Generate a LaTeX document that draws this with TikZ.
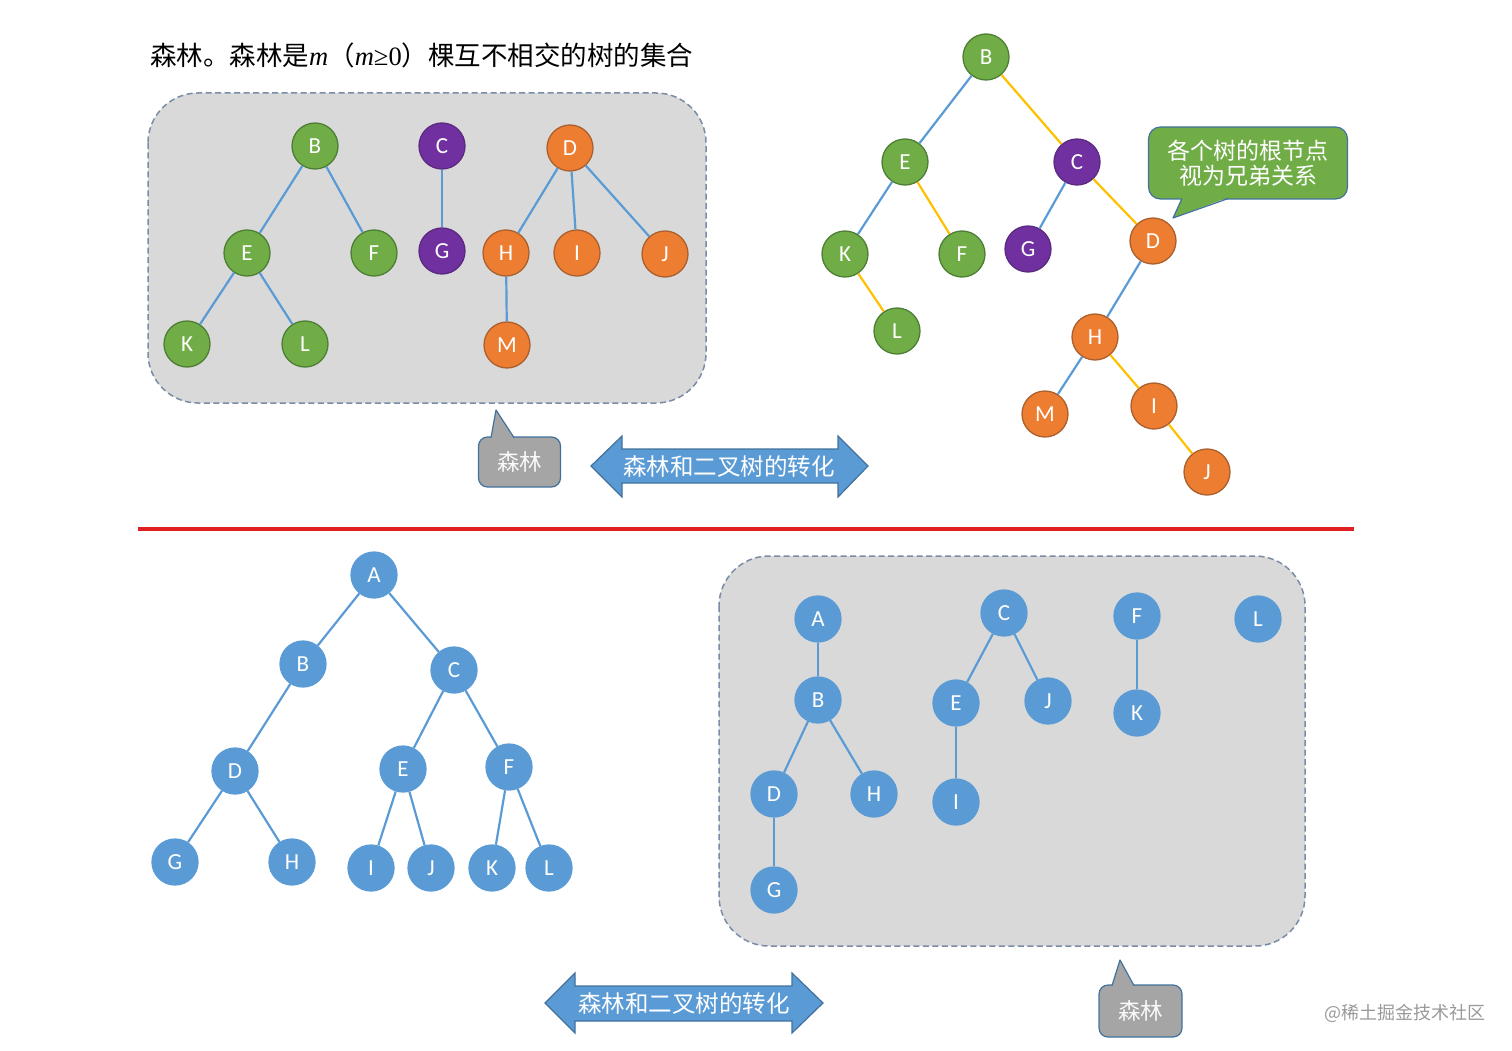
\documentclass[tikz,border=0pt]{standalone}
\usepackage{fontspec}
\setmainfont{Carlito}
\newfontfamily\cjk{Noto Sans CJK SC}
\newfontfamily\tms{Liberation Serif}
\definecolor{grn}{HTML}{70AD47}
\definecolor{grnd}{HTML}{4E7E35}
\definecolor{org}{HTML}{ED7D31}
\definecolor{orgd}{HTML}{A9602E}
\definecolor{pur}{HTML}{7030A0}
\definecolor{purd}{HTML}{5A2A80}
\definecolor{blu}{HTML}{5B9BD5}
\definecolor{blud}{HTML}{41719C}
\definecolor{eyel}{HTML}{FFC000}
\definecolor{boxfill}{HTML}{D9D9D9}
\definecolor{boxline}{HTML}{7A8CA6}
\definecolor{callgray}{HTML}{A5A5A5}
\definecolor{redline}{HTML}{E02020}
\begin{document}
\begin{tikzpicture}[x=1pt,y=-1pt,
  nd/.style={circle, minimum size=46pt, inner sep=0pt, text=white, font=\fontsize{23}{23}\selectfont, line width=1.3pt},
  gn/.style={nd, fill=grn, draw=grnd},
  og/.style={nd, fill=org, draw=orgd},
  pp/.style={nd, fill=pur, draw=purd},
  bn/.style={nd, fill=blu, draw=blu},
  be/.style={line width=2.2pt, draw=blu},
  ye/.style={line width=2.2pt, draw=eyel},
  forestbox/.style={fill=boxfill, draw=boxline, dash pattern=on 6pt off 3.5pt, line width=1.5pt, rounded corners=50pt},
  calltext/.style={text=white, font=\cjk\fontsize{23}{27}\selectfont, align=center},
  arrowshape/.style={fill=blu, draw=blud, line width=1.2pt, line join=miter}
]
\useasboundingbox (0,0) rectangle (1512,1051);

% ---------- title ----------
\node[anchor=west, inner sep=0pt, font=\fontsize{26.5}{26.5}\selectfont] (title) at (150,55)
  {\cjk 森林。森林是{\tms\itshape m}（{\tms\itshape m}{\tms ≥0}）棵互不相交的树的集合};

% ---------- top-left forest box ----------
\draw[forestbox] (148,93) rectangle (706,403);

\node[gn] (tB) at (315,146) {B};
\node[gn] (tE) at (247,253) {E};
\node[gn] (tF) at (374,253) {F};
\node[gn] (tK) at (187,344) {K};
\node[gn] (tL) at (305,344) {L};
\node[pp] (tC) at (442,146) {C};
\node[pp] (tG) at (442,251) {G};
\node[og] (tD) at (570,148) {D};
\node[og] (tH) at (506,253) {H};
\node[og] (tI) at (577,253) {I};
\node[og] (tJ) at (665,254) {J};
\node[og] (tM) at (507,345) {M};

\draw[be] (tB)--(tE); \draw[be] (tB)--(tF);
\draw[be] (tE)--(tK); \draw[be] (tE)--(tL);
\draw[be] (tC)--(tG);
\draw[be] (tD)--(tH); \draw[be] (tD)--(tI); \draw[be] (tD)--(tJ);
\draw[be] (tH)--(tM);

% gray callout 1
\node[fill=callgray, draw=blud, line width=1.2pt, rounded corners=9pt, minimum width=82pt, minimum height=50pt, inner sep=0pt,
      text=white!95!gray, font=\cjk\fontsize{22.5}{22.5}\selectfont] (call1) at (519.5,462) {森林};
\fill[callgray] (491,438.5) -- (496,410) -- (514,438.5) -- cycle;
\draw[draw=blud, line width=1.2pt, line join=round] (491,437.6) -- (496,410) -- (514,437.6);

% double arrow 1
\draw[arrowshape] (591,466) -- (622,436) -- (622,449) -- (838,449) -- (838,436) -- (868,466)
   -- (838,497) -- (838,483) -- (622,483) -- (622,497) -- cycle;
\node[text=white, font=\cjk\fontsize{23.5}{23.5}\selectfont] (arr1) at (729,467) {森林和二叉树的转化};

% ---------- top-right binary tree ----------
\node[gn] (rB) at (986,57) {B};
\node[gn] (rE) at (905,162) {E};
\node[pp] (rC) at (1077,162) {C};
\node[gn] (rK) at (845,254) {K};
\node[gn] (rF) at (962,254) {F};
\node[pp] (rG) at (1028,249) {G};
\node[og] (rD) at (1153,241) {D};
\node[gn] (rL) at (897,331) {L};
\node[og] (rH) at (1095,337) {H};
\node[og] (rM) at (1045,414) {M};
\node[og] (rI) at (1154,406) {I};
\node[og] (rJ) at (1207,472) {J};

\draw[be] (rB)--(rE); \draw[ye] (rB)--(rC);
\draw[be] (rE)--(rK); \draw[ye] (rE)--(rF);
\draw[ye] (rK)--(rL);
\draw[be] (rC)--(rG); \draw[ye] (rC)--(rD);
\draw[be] (rD)--(rH);
\draw[be] (rH)--(rM); \draw[ye] (rH)--(rI);
\draw[ye] (rI)--(rJ);

% green callout
\node[fill=grn, draw=blud, line width=1.2pt, rounded corners=12pt, minimum width=199pt, minimum height=72pt, inner sep=0pt,
      calltext] (call2) at (1248,163) {各个树的根节点\\[-2pt]视为兄弟关系};
\fill[grn] (1182,197.5) -- (1173,218) -- (1228,197.5) -- cycle;
\draw[draw=blud, line width=1.2pt, line join=round] (1182,198.6) -- (1173,218) -- (1228,198.6);

% ---------- red separator ----------
\coordinate (sepL) at (138,529);
\coordinate (sepR) at (1354,529);
\draw[redline, line width=3.2pt] (sepL) -- (sepR);

% ---------- bottom-left binary tree ----------
\node[bn] (bA) at (374,575) {A};
\node[bn] (bB) at (303,664) {B};
\node[bn] (bC) at (454,670) {C};
\node[bn] (bD) at (235,771) {D};
\node[bn] (bE) at (403,769) {E};
\node[bn] (bF) at (509,767) {F};
\node[bn] (bG) at (175,862) {G};
\node[bn] (bH) at (292,862) {H};
\node[bn] (bI) at (371,868) {I};
\node[bn] (bJ) at (431,868) {J};
\node[bn] (bK) at (492,868) {K};
\node[bn] (bL) at (549,868) {L};

\draw[be] (bA)--(bB); \draw[be] (bA)--(bC);
\draw[be] (bB)--(bD);
\draw[be] (bC)--(bE); \draw[be] (bC)--(bF);
\draw[be] (bD)--(bG); \draw[be] (bD)--(bH);
\draw[be] (bE)--(bI); \draw[be] (bE)--(bJ);
\draw[be] (bF)--(bK); \draw[be] (bF)--(bL);

% ---------- bottom-right forest box ----------
\draw[forestbox] (719,556) rectangle (1305,946);

\node[bn] (fA) at (818,619) {A};
\node[bn] (fB) at (818,700) {B};
\node[bn] (fD) at (774,794) {D};
\node[bn] (fH) at (874,794) {H};
\node[bn] (fG) at (774,890) {G};
\node[bn] (fC) at (1004,613) {C};
\node[bn] (fE) at (956,703) {E};
\node[bn] (fJ) at (1048,701) {J};
\node[bn] (fI) at (956,802) {I};
\node[bn] (fF) at (1137,616) {F};
\node[bn] (fK) at (1137,713) {K};
\node[bn] (fL) at (1258,619) {L};

\draw[be] (fA)--(fB);
\draw[be] (fB)--(fD); \draw[be] (fB)--(fH);
\draw[be] (fD)--(fG);
\draw[be] (fC)--(fE); \draw[be] (fC)--(fJ);
\draw[be] (fE)--(fI);
\draw[be] (fF)--(fK);

% double arrow 2
\draw[arrowshape] (545,1003) -- (575,973) -- (575,986) -- (792,986) -- (792,973) -- (823,1003)
   -- (792,1033) -- (792,1021) -- (575,1021) -- (575,1033) -- cycle;
\node[text=white, font=\cjk\fontsize{23.5}{23.5}\selectfont] (arr2) at (684,1004) {森林和二叉树的转化};

% gray callout 2
\node[fill=callgray, draw=blud, line width=1.2pt, rounded corners=9pt, minimum width=83pt, minimum height=52pt, inner sep=0pt,
      text=white!95!gray, font=\cjk\fontsize{22.5}{22.5}\selectfont] (call3) at (1140.5,1011) {森林};
\fill[callgray] (1112,986.5) -- (1120,960) -- (1134,986.5) -- cycle;
\draw[draw=blud, line width=1.2pt, line join=round] (1112,985.6) -- (1120,960) -- (1134,985.6);

% watermark
\node[anchor=east, inner sep=0pt, text=gray!80, font=\cjk\fontsize{18}{18}\selectfont] (wm) at (1486,1013) {@稀土掘金技术社区};
\end{tikzpicture}
\end{document}
